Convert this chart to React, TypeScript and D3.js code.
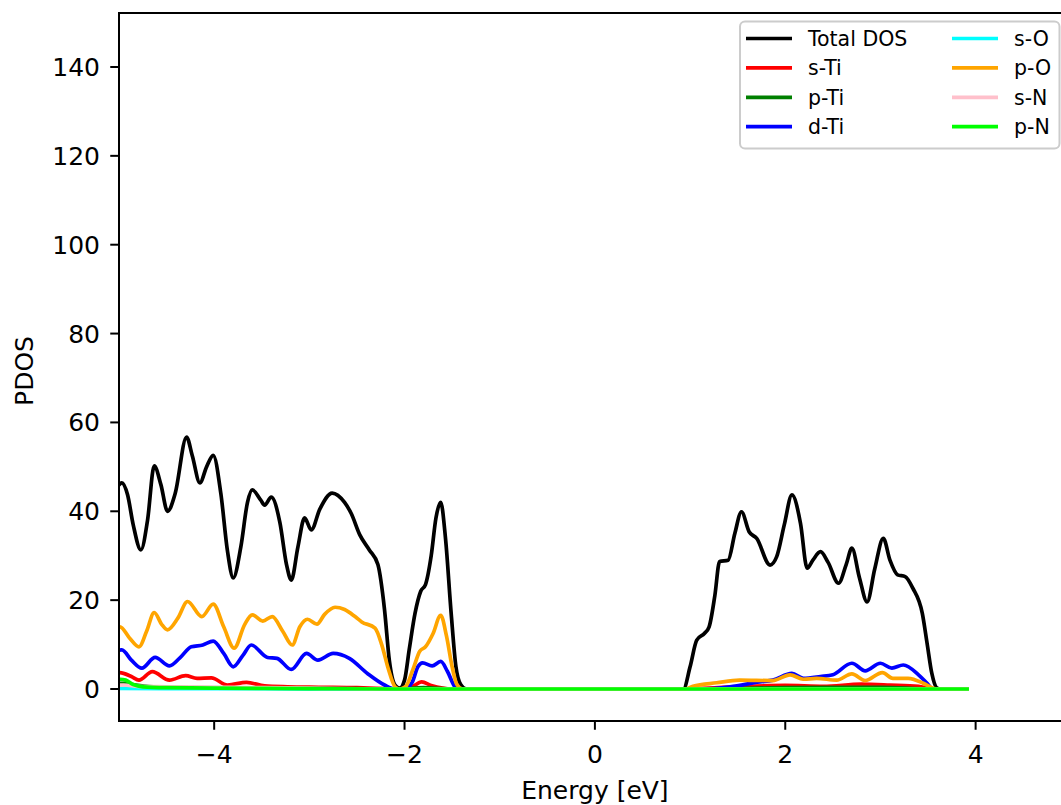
import * as d3 from "d3";

// energy grid (eV) and DOS values per projection
const totalE = [-5.1, -5.02, -4.97, -4.91, -4.85, -4.77, -4.7, -4.63, -4.56, -4.49, -4.41, -4.29, -4.23, -4.15, -4.08, -4.01, -3.93, -3.86, -3.8, -3.72, -3.65, -3.6, -3.51, -3.47, -3.4, -3.31, -3.24, -3.19, -3.12, -3.05, -2.98, -2.89, -2.76, -2.63, -2.56, -2.47, -2.37, -2.28, -2.21, -2.16, -2.1, -2.05, -2.0, -1.95, -1.89, -1.83, -1.78, -1.72, -1.67, -1.62, -1.57, -1.51, -1.46, -1.41, -1.35, 0.93, 1.0, 1.07, 1.15, 1.2, 1.26, 1.31, 1.4, 1.47, 1.54, 1.62, 1.7, 1.84, 1.91, 1.99, 2.07, 2.16, 2.23, 2.29, 2.37, 2.45, 2.56, 2.64, 2.7, 2.78, 2.86, 2.94, 3.03, 3.1, 3.18, 3.26, 3.34, 3.44, 3.49, 3.54, 3.59, 3.63, 3.93];
const totalDos = [44, 45.5, 46.4, 43.7, 36.9, 31.3, 38, 50.2, 46, 40, 44, 56.7, 52.5, 46.4, 50, 52.6, 44, 31, 25, 32, 42, 44.8, 42.5, 41.4, 43.2, 37.5, 28, 24.5, 32, 38.5, 35.8, 40.5, 44.1, 42, 39.5, 34.7, 31.3, 28, 17.8, 6.5, 0.9, 0.2, 2, 9, 17, 22, 23.5, 30, 38.5, 42, 34, 17, 5, 1, 0, 0, 5, 11, 12.5, 14, 21, 28.7, 29, 35, 39.9, 35.4, 33.9, 27.9, 29.8, 37, 43.7, 37.3, 27.2, 29, 30.9, 28.5, 23.8, 28, 31.7, 25, 19.6, 27, 33.9, 29, 25.7, 25.3, 22.7, 17, 10.3, 3.5, 0.3, 0, 0];

const sTiE = [-5.1, -4.99, -4.87, -4.79, -4.65, -4.47, -4.3, -4.18, -4.03, -3.86, -3.66, -3.47, -3.23, -2.9, -2.5, -2.2, -2.05, -1.92, -1.82, -1.72, -1.6, -1.5, 1.0, 1.3, 1.6, 2.0, 2.4, 2.8, 3.1, 3.4, 3.55, 3.93];
const sTi = [3.5, 3.7, 2.8, 2.0, 3.9, 2.0, 3.0, 2.4, 2.5, 0.9, 1.5, 0.7, 0.5, 0.4, 0.3, 0.1, 0, 0.5, 1.6, 0.8, 0.2, 0, 0, 0.3, 0.6, 0.8, 0.6, 1.1, 0.9, 0.6, 0, 0];

const pTiE = [-5.1, -4.95, -4.8, -4.6, -4.2, -3.5, -2.5, -2.1, -1.8, -1.5, 1.0, 2.0, 3.0, 3.55, 3.93];
const pTi = [1.2, 1.3, 0.8, 0.4, 0.3, 0.2, 0.1, 0, 0.3, 0, 0, 0.3, 0.4, 0, 0];

const dTiE = [-5.1, -4.97, -4.87, -4.76, -4.62, -4.47, -4.36, -4.24, -4.12, -4.01, -3.9, -3.8, -3.7, -3.61, -3.44, -3.34, -3.19, -3.03, -2.91, -2.75, -2.58, -2.39, -2.21, -2.1, -2.0, -1.92, -1.86, -1.81, -1.71, -1.62, -1.55, -1.47, -1.42, 1.1, 1.42, 1.73, 1.87, 2.07, 2.19, 2.37, 2.5, 2.7, 2.84, 3.0, 3.12, 3.24, 3.4, 3.49, 3.55, 3.93];
const dTi = [8, 8.8, 6.5, 4.7, 7.1, 5.2, 7, 9.5, 9.9, 10.8, 8, 5, 7.5, 9.9, 7.1, 6.9, 4.4, 8, 6.5, 8, 6.9, 3.5, 0.9, 0, 0, 1.5, 5, 5.9, 5.2, 6.2, 4, 0.5, 0, 0, 0.5, 1.6, 2, 3.5, 2.4, 2.8, 3.2, 5.8, 4.1, 5.8, 4.7, 5.4, 3.2, 1.3, 0, 0];

const sOE = [-5.1, -4.5, -3.0, -2.1, 3.93];
const sO = [0.15, 0.1, 0.05, 0, 0];

const pOE = [-5.1, -4.99, -4.89, -4.79, -4.71, -4.63, -4.55, -4.49, -4.38, -4.28, -4.13, -4.01, -3.9, -3.79, -3.68, -3.6, -3.49, -3.39, -3.28, -3.18, -3.1, -3.02, -2.92, -2.84, -2.73, -2.63, -2.52, -2.45, -2.31, -2.24, -2.17, -2.1, -2.05, -1.99, -1.91, -1.84, -1.78, -1.7, -1.62, -1.56, -1.5, -1.45, -1.39, 0.95, 1.03, 1.28, 1.52, 1.87, 2.05, 2.19, 2.33, 2.54, 2.7, 2.84, 3.02, 3.13, 3.29, 3.45, 3.54, 3.61, 3.93];
const pO = [13, 14, 11.5, 9.5, 13, 17.2, 14.5, 13.3, 16, 19.7, 16.3, 19.1, 14, 9.2, 14.5, 16.7, 15.3, 16.3, 13, 9.9, 14, 15.7, 14.6, 16.8, 18.4, 17.9, 16.3, 15.1, 13.7, 10, 4.5, 0.5, 0, 0.5, 4.5, 8.5, 9.5, 12.5, 16.6, 12, 5, 1, 0, 0, 0.6, 1.4, 2, 1.9, 3.2, 2.2, 2.4, 2, 3.4, 1.9, 3.7, 2.4, 2.4, 1.3, 0.3, 0, 0];

const sNE = [-5.1, -4.95, -4.8, -4.5, -4.0, -3.5, -3.0, -2.1, 3.93];
const sN = [0.8, 0.9, 0.6, 0.5, 0.4, 0.3, 0.2, 0, 0];

const pNE = [-5.1, -4.99, -4.93, -4.85, -4.75, -4.5, -4.0, -3.0, -2.1, 3.93];
const pN = [1.8, 2.2, 2.0, 1.0, 0.5, 0.3, 0.2, 0.1, 0, 0];

const xTicks = [-4, -2, 0, 2, 4];
const yTicks = [0, 20, 40, 60, 80, 100, 120, 140];

const series = [
  {label: "Total DOS", e: totalE, v: totalDos, color: "#000000"},
  {label: "s-Ti", e: sTiE, v: sTi, color: "#ff0000"},
  {label: "p-Ti", e: pTiE, v: pTi, color: "#008000"},
  {label: "d-Ti", e: dTiE, v: dTi, color: "#0000ff"},
  {label: "s-O", e: sOE, v: sO, color: "#00ffff"},
  {label: "p-O", e: pOE, v: pO, color: "#ffa500"},
  {label: "s-N", e: sNE, v: sN, color: "#ffc0cb"},
  {label: "p-N", e: pNE, v: pN, color: "#00ff00"},
];

const width = 1061;
const height = 805;
const font = "'DejaVu Sans', sans-serif";

export default function App() {
  const left = 119;
  const top = 13;
  const bottom = 721;

  const x = d3.scaleLinear().domain([-5, 5]).range([left, left + 10 * 95.18]);
  const y = d3.scaleLinear().domain([-7.2, 152.15]).range([bottom, top]);

  const line = d3
    .line<[number, number]>()
    .x((d) => x(d[0]))
    .y((d) => y(d[1]))
    .curve(d3.curveMonotoneX);

  const right = x(5);

  return (
    <div style={{position: "absolute", left: 0, top: 0}}>
      <svg width={width} height={height} style={{display: "block"}} fontFamily={font}>
        <defs>
          <clipPath id="plot">
            <rect x={left} y={top} width={right - left} height={bottom - top} />
          </clipPath>
        </defs>
        <rect width={width} height={height} fill="#fff" />

        <g clipPath="url(#plot)" fill="none" strokeWidth={3.7} strokeLinejoin="round" strokeLinecap="butt">
          {series.map((s) => (
            <path key={s.label} d={line(d3.zip(s.e, s.v) as [number, number][]) ?? ""} stroke={s.color} />
          ))}
        </g>

        {/* frame */}
        <rect x={left} y={top} width={right - left} height={bottom - top} fill="none" stroke="#000" strokeWidth={2} />

        {/* x axis */}
        {xTicks.map((t) => (
          <g key={t} transform={`translate(${x(t)},${bottom})`}>
            <line y2={8.75} stroke="#000" strokeWidth={2} />
            <text y={41.5} textAnchor="middle" fontSize={25} fill="#000">
              {t < 0 ? `\u2212${-t}` : t}
            </text>
          </g>
        ))}
        <text x={x(0)} y={798.5} textAnchor="middle" fontSize={25} fill="#000">
          Energy [eV]
        </text>

        {/* y axis */}
        {yTicks.map((t) => (
          <g key={t} transform={`translate(${left},${y(t)})`}>
            <line x2={-8.75} stroke="#000" strokeWidth={2} />
            <text x={-19} y={9} textAnchor="end" fontSize={25} fill="#000">
              {t}
            </text>
          </g>
        ))}
        <text transform={`translate(33,371) rotate(-90)`} textAnchor="middle" fontSize={25} fill="#000">
          PDOS
        </text>

        {/* legend */}
        <g>
          <rect x={740} y={21.5} width={319.5} height={127} rx={5} fill="#fff" fillOpacity={0.8} stroke="#cccccc" strokeWidth={2} />
          {series.map((s, i) => {
            const col = Math.floor(i / 4);
            const row = i % 4;
            const lx = col === 0 ? 746 : 952;
            const ly = 38.5 + row * 29.4;
            return (
              <g key={s.label}>
                <line x1={lx} x2={lx + 46} y1={ly} y2={ly} stroke={s.color} strokeWidth={3.7} />
                <text x={lx + 62} y={ly + 7.3} fontSize={20.5} fill="#000">
                  {s.label}
                </text>
              </g>
            );
          })}
        </g>
      </svg>
    </div>
  );
}
